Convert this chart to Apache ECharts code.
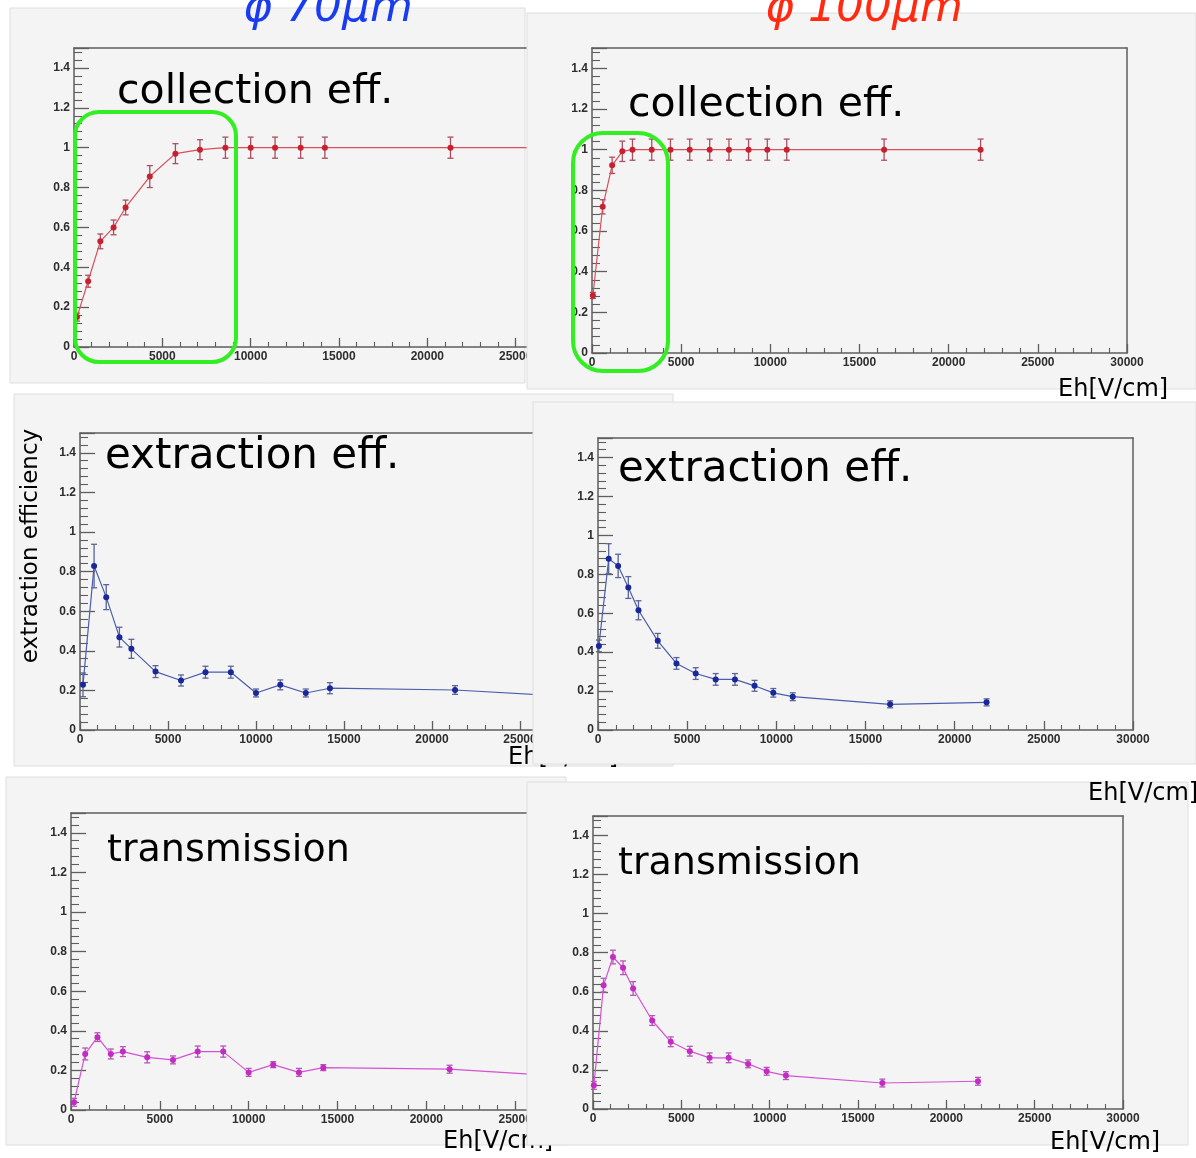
<!DOCTYPE html>
<html>
<head>
<meta charset="utf-8">
<script src="https://cdn.jsdelivr.net/npm/echarts@6/dist/echarts.min.js"></script>
<style>
html,body{margin:0;padding:0;background:#fff;}
#c{width:1196px;height:1158px;}
</style>
</head>
<body>
<div id="c"></div>
<script>
// ---------------- data ----------------
const eh70 = [170, 800, 1490, 2240, 2920, 4290, 5740, 7130, 8570, 10000, 11380, 12830, 14200, 21310, 28500];
const coll70 = [0.15, 0.33, 0.53, 0.60, 0.70, 0.855, 0.97, 0.99, 1.0, 1.0, 1.0, 1.0, 1.0, 1.0, 1.0];
const collErr70 = [0.02, 0.03, 0.037, 0.037, 0.037, 0.055, 0.05, 0.05, 0.053, 0.053, 0.053, 0.053, 0.053, 0.053, 0.053];
const extr70 = [0.228, 0.828, 0.671, 0.469, 0.41, 0.295, 0.25, 0.292, 0.292, 0.187, 0.228, 0.187, 0.211, 0.202, 0.166];
const extrErr70 = [0.06, 0.11, 0.063, 0.05, 0.048, 0.03, 0.028, 0.03, 0.03, 0.02, 0.025, 0.02, 0.028, 0.022, 0.02];
const trans70 = [0.039, 0.283, 0.368, 0.283, 0.295, 0.266, 0.253, 0.295, 0.295, 0.19, 0.229, 0.19, 0.214, 0.206, 0.166];
const transErr70 = [0.02, 0.03, 0.022, 0.025, 0.025, 0.028, 0.02, 0.028, 0.028, 0.02, 0.015, 0.02, 0.015, 0.02, 0.02];

const eh100 = [50, 600, 1130, 1700, 2270, 3350, 4400, 5480, 6600, 7680, 8780, 9830, 10920, 16380, 21790];
const coll100 = [0.283, 0.719, 0.923, 0.992, 1.0, 1.0, 1.0, 1.0, 1.0, 1.0, 1.0, 1.0, 1.0, 1.0, 1.0];
const collErr100 = [0.015, 0.035, 0.04, 0.05, 0.052, 0.052, 0.052, 0.052, 0.052, 0.052, 0.052, 0.052, 0.052, 0.052, 0.052];
const extr100 = [0.432, 0.88, 0.843, 0.732, 0.615, 0.458, 0.342, 0.29, 0.26, 0.26, 0.227, 0.191, 0.171, 0.132, 0.142];
const extrErr100 = [0.03, 0.077, 0.06, 0.056, 0.049, 0.038, 0.03, 0.03, 0.03, 0.03, 0.028, 0.022, 0.02, 0.018, 0.018];
const trans100 = [0.121, 0.634, 0.778, 0.723, 0.617, 0.453, 0.344, 0.296, 0.262, 0.262, 0.231, 0.193, 0.171, 0.133, 0.142];
const transErr100 = [0.02, 0.035, 0.035, 0.035, 0.035, 0.025, 0.025, 0.025, 0.025, 0.025, 0.02, 0.02, 0.02, 0.02, 0.02];

const xRange = [0, 30000];
const xStep = 5000;
const yRange = [0, 1.5];
const yStep = 0.2;

const panelTitles = ['collection eff.', 'collection eff.', 'extraction eff.', 'extraction eff.', 'transmission', 'transmission'];
const diameterTitles = ['\u03c6 70\u03bcm', '\u03c6 100\u03bcm'];
const xAxisTitle = 'Eh[V/cm]';
const yAxisTitle = 'extraction efficiency';

// ---------------- layout ----------------
const RED = {line: '#d8505e', mark: '#c8202e', err: '#a85060'};
const BLUE = {line: '#4c5cae', mark: '#18289a', err: '#5a6496'};
const MAG = {line: '#d452d4', mark: '#c22cc2', err: '#b456b4'};

const panels = [
  {bg: [10, 8, 515, 375], grid: [74, 48, 530, 299], xs: eh70, ys: coll70, es: collErr70, col: RED, title: [117, 92, 41], right: false},
  {bg: [527, 13, 669, 376], grid: [592, 48, 535, 305], xs: eh100, ys: coll100, es: collErr100, col: RED, title: [628, 105, 41], right: true},
  {bg: [14, 394, 659, 372], grid: [80, 433, 528, 297], xs: eh70, ys: extr70, es: extrErr70, col: BLUE, title: [105, 457, 42], right: false},
  {bg: [533, 402, 663, 362], grid: [598, 438, 535, 292], xs: eh100, ys: extr100, es: extrErr100, col: BLUE, title: [618, 470, 42], right: true},
  {bg: [6, 777, 560, 368], grid: [71, 813, 533, 297], xs: eh70, ys: trans70, es: transErr70, col: MAG, title: [107, 851, 38], right: false},
  {bg: [527, 782, 661, 363], grid: [593, 816, 530, 293], xs: eh100, ys: trans100, es: transErr100, col: MAG, title: [618, 864, 38], right: true}
];

const labelFont = {fontFamily: 'Liberation Sans', fontWeight: 'bold', fontSize: 12, color: '#2e2e2e'};
const frameLine = {color: '#5e5e5e', width: 1.5};

const grids = [], xAxes = [], yAxes = [], series = [], graphics = [];

panels.forEach((p, i) => {
  const base = i * 10;
  graphics.push({type: 'rect', z: base, shape: {x: p.bg[0], y: p.bg[1], width: p.bg[2], height: p.bg[3]},
    style: {fill: '#f4f4f4', stroke: '#dedede', lineWidth: 1}});
  grids.push({left: p.grid[0], top: p.grid[1], width: p.grid[2], height: p.grid[3], show: false,
    containLabel: false, outerBoundsMode: 'none', z: base + 2});
  xAxes.push({gridIndex: i, type: 'value', position: 'bottom', min: xRange[0], max: xRange[1], interval: xStep, z: base + 2,
    axisLine: {show: true, onZero: false, lineStyle: frameLine},
    axisTick: {show: true, inside: true, length: 9, lineStyle: {color: '#5e5e5e', width: 1.3}},
    minorTick: {show: true, splitNumber: 5, length: 5, lineStyle: {color: '#5e5e5e', width: 1.1}},
    axisLabel: Object.assign({margin: 4, formatter: v => String(v)}, labelFont),
    splitLine: {show: false}});
  xAxes.push({gridIndex: i, type: 'value', position: 'top', min: xRange[0], max: xRange[1], z: base + 2,
    axisLine: {show: true, onZero: false, lineStyle: frameLine},
    axisTick: {show: false}, axisLabel: {show: false}, splitLine: {show: false}});
  yAxes.push({gridIndex: i, type: 'value', position: 'left', min: yRange[0], max: yRange[1], interval: yStep, z: base + 2,
    axisLine: {show: true, onZero: false, lineStyle: frameLine},
    axisTick: {show: true, inside: true, length: 15, lineStyle: {color: '#5e5e5e', width: 1.3}},
    minorTick: {show: true, splitNumber: 5, length: 8, lineStyle: {color: '#5e5e5e', width: 1.1}},
    axisLabel: Object.assign({margin: 4, showMaxLabel: false}, labelFont),
    splitLine: {show: false}});
  yAxes.push({gridIndex: i, type: 'value', position: 'right', min: yRange[0], max: yRange[1], z: base + 2, show: p.right,
    axisLine: {show: true, onZero: false, lineStyle: frameLine},
    axisTick: {show: false}, axisLabel: {show: false}, splitLine: {show: false}});

  const col = p.col;
  series.push({
    type: 'custom', xAxisIndex: 2 * i, yAxisIndex: 2 * i, z: base + 3, silent: true,
    data: p.xs.map((x, k) => [x, p.ys[k] - p.es[k], p.ys[k] + p.es[k]]),
    renderItem: (params, api) => {
      const lo = api.coord([api.value(0), api.value(1)]);
      const hi = api.coord([api.value(0), api.value(2)]);
      const w = 3;
      const st = {stroke: col.err, lineWidth: 1.3};
      return {type: 'group', children: [
        {type: 'line', shape: {x1: lo[0], y1: lo[1], x2: hi[0], y2: hi[1]}, style: st},
        {type: 'line', shape: {x1: lo[0] - w, y1: lo[1], x2: lo[0] + w, y2: lo[1]}, style: st},
        {type: 'line', shape: {x1: hi[0] - w, y1: hi[1], x2: hi[0] + w, y2: hi[1]}, style: st}
      ]};
    }
  });
  series.push({
    type: 'line', xAxisIndex: 2 * i, yAxisIndex: 2 * i, z: base + 4, silent: true,
    data: p.xs.map((x, k) => [x, p.ys[k]]),
    symbol: 'circle', symbolSize: 6, showSymbol: true,
    lineStyle: {color: col.line, width: 1.2},
    itemStyle: {color: col.mark, borderWidth: 0}
  });
  graphics.push({type: 'text', z: base + 5, x: p.title[0], y: p.title[1],
    style: {text: panelTitles[i], font: p.title[2] + 'px "DejaVu Sans"', fill: '#000', textAlign: 'left', textVerticalAlign: 'middle'}});
});

// axis titles within their layers
graphics.push({type: 'text', z: 25, x: 508, y: 758,
  style: {text: xAxisTitle, font: '24px "DejaVu Sans"', fill: '#000', textAlign: 'left', textVerticalAlign: 'middle'}});
graphics.push({type: 'text', z: 25, x: 31, y: 546, rotation: Math.PI / 2,
  style: {text: yAxisTitle, font: '23px "DejaVu Sans"', fill: '#000', textAlign: 'center', textVerticalAlign: 'middle'}});
graphics.push({type: 'text', z: 45, x: 443, y: 1142,
  style: {text: xAxisTitle, font: '24px "DejaVu Sans"', fill: '#000', textAlign: 'left', textVerticalAlign: 'middle'}});
graphics.push({type: 'text', z: 55, x: 1050, y: 1143,
  style: {text: xAxisTitle, font: '24px "DejaVu Sans"', fill: '#000', textAlign: 'left', textVerticalAlign: 'middle'}});
// overlays
graphics.push({type: 'text', z: 100, x: 1058, y: 390,
  style: {text: xAxisTitle, font: '24px "DejaVu Sans"', fill: '#000', textAlign: 'left', textVerticalAlign: 'middle'}});
graphics.push({type: 'text', z: 100, x: 1088, y: 794,
  style: {text: xAxisTitle, font: '24px "DejaVu Sans"', fill: '#000', textAlign: 'left', textVerticalAlign: 'middle'}});
graphics.push({type: 'rect', z: 100, shape: {x: 75, y: 112, width: 161, height: 250, r: 24},
  style: {fill: 'none', stroke: '#33ee22', lineWidth: 4}});
graphics.push({type: 'rect', z: 100, shape: {x: 573, y: 133, width: 95, height: 238, r: 30},
  style: {fill: 'none', stroke: '#33ee22', lineWidth: 4}});
graphics.push({type: 'text', z: 100, x: 243, y: 32,
  style: {text: diameterTitles[0], font: 'italic 44px "DejaVu Sans"', fill: '#1a3cf0', textAlign: 'left', textVerticalAlign: 'bottom'}});
graphics.push({type: 'text', z: 100, x: 765, y: 32,
  style: {text: diameterTitles[1], font: 'italic 44px "DejaVu Sans"', fill: '#ff2a10', textAlign: 'left', textVerticalAlign: 'bottom'}});

const chart = echarts.init(document.getElementById('c'), null, {renderer: 'canvas'});
chart.setOption({
  animation: false,
  backgroundColor: '#ffffff',
  grid: grids,
  xAxis: xAxes,
  yAxis: yAxes,
  series: series,
  graphic: {elements: graphics}
});
</script>
</body>
</html>
